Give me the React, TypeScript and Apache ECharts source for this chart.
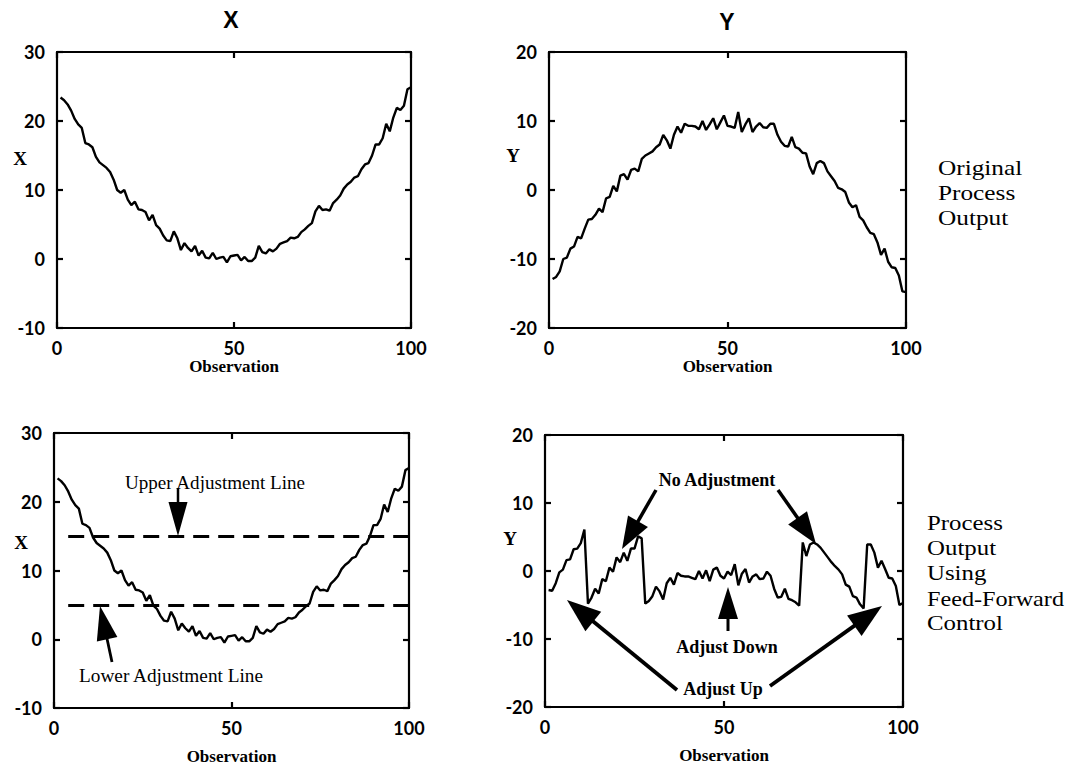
import React, { useEffect, useRef } from "react";
import * as echarts from "echarts";

// Observation numbers (x categories)
const observations: number[] = Array.from({ length: 100 }, (_, i) => i + 1);

// Original process output X
const xOriginal: number[] = [
  23.4, 23.0, 22.4, 21.5, 20.3, 19.5, 19.0, 16.8, 16.6, 16.2,
  14.8, 14.0, 13.6, 13.2, 12.6, 11.5, 10.0, 9.6, 10.0, 8.6,
  7.8, 8.3, 7.2, 7.1, 6.8, 5.6, 6.4, 4.9, 4.4, 3.4,
  2.7, 2.6, 4.0, 3.0, 1.3, 2.3, 1.6, 1.1, 1.9, 0.5,
  1.2, 0.2, 0.1, 0.9, 0.0, 0.2, 0.3, -0.5, 0.4, 0.5,
  0.6, -0.2, 0.3, -0.3, -0.3, 0.2, 1.9, 1.0, 0.8, 1.4,
  1.1, 1.5, 2.2, 2.4, 2.6, 3.1, 3.0, 3.2, 3.9, 4.3,
  4.8, 5.2, 6.9, 7.7, 7.1, 7.2, 7.0, 8.1, 8.6, 9.2,
  10.2, 10.8, 11.2, 11.8, 12.0, 13.0, 13.7, 13.9, 15.0, 16.6,
  16.6, 17.5, 19.6, 18.5, 20.5, 21.9, 21.6, 22.2, 24.6, 24.9,
];

// Original process output Y
const yOriginal: number[] = [
  -12.9, -12.6, -11.8, -10.0, -9.8, -8.5, -8.2, -6.8, -7.0, -5.6,
  -4.3, -4.2, -3.6, -2.7, -3.2, -1.2, -1.0, 0.6, -0.2, 2.1,
  2.3, 1.5, 2.9, 3.1, 2.7, 4.5, 5.0, 5.3, 5.6, 6.2,
  6.6, 8.0, 7.2, 6.0, 8.0, 9.2, 8.3, 9.6, 9.3, 9.3,
  9.2, 8.8, 10.0, 8.7, 9.5, 10.4, 8.8, 9.8, 10.8, 9.3,
  9.2, 9.0, 11.3, 8.4, 9.5, 10.4, 8.4, 9.2, 9.7, 9.1,
  9.0, 9.6, 9.6, 8.0, 7.0, 6.4, 6.3, 7.7, 6.2, 6.0,
  5.4, 5.3, 3.4, 2.3, 3.9, 4.2, 3.9, 2.7, 2.0, 1.3,
  0.3, 0.1, -0.3, -1.8, -2.5, -2.2, -3.9, -4.4, -5.4, -6.2,
  -6.4, -7.6, -9.4, -8.5, -10.4, -11.2, -11.3, -12.4, -14.7, -14.8,
];

// Y using feed-forward control
const yControlled: number[] = [
  -2.8, -2.9, -1.8, -0.2, 0.2, 1.6, 1.7, 3.2, 3.3, 4.1,
  6.1, -4.8, -3.9, -2.6, -3.3, -1.2, -1.5, 0.5, -0.1, 2.0,
  1.3, 2.7, 1.5, 3.3, 3.3, 5.1, 4.8, -4.8, -4.4, -3.7,
  -2.3, -3.0, -4.2, -1.8, -1.0, -2.0, -0.3, -0.7, -0.8, -0.8,
  -1.0, -1.2, 0.0, -1.1, 0.1, -1.5, 0.2, 0.5, -0.7, -1.1,
  -0.1, -0.6, 1.0, -2.1, -0.4, 0.3, -1.7, -0.8, -0.5, -1.2,
  -1.1, -0.1, -0.7, -2.6, -3.9, -3.8, -2.6, -4.1, -4.3, -4.6,
  -5.1, 4.2, 2.2, 3.9, 4.2, 3.9, 3.4, 2.7, 2.0, 1.3,
  0.7, 0.2, -0.5, -2.0, -2.3, -3.7, -3.9, -4.9, -5.5, 3.9,
  3.9, 2.7, 0.5, 1.5, 0.3, -1.0, -1.1, -2.2, -5.0, -4.7,
];

const xTicks = { min: 0, max: 100, interval: 50 };
const xRange = { min: -10, max: 30, interval: 10 };
const yRange = { min: -20, max: 20, interval: 10 };
const upperAdjustment = 15;
const lowerAdjustment = 5;
const dashStartObs = 4;

const SERIF = "'Liberation Serif', 'Times New Roman', serif";
const SANS = "'Liberation Sans', Arial, sans-serif";
const TICKFONT = "Lato, 'Open Sans', sans-serif";

const grids = [
  { left: 57, top: 52, width: 354, height: 276 },
  { left: 549, top: 52, width: 357, height: 276 },
  { left: 54, top: 433, width: 355, height: 275 },
  { left: 545, top: 435, width: 358, height: 272 },
];

function lineStyle() {
  return { color: "#000", width: 2.2 };
}

function makeXAxes(gridIndex: number, nameGap: number) {
  const common = {
    type: "value",
    gridIndex,
    min: xTicks.min,
    max: xTicks.max,
    interval: xTicks.interval,
    splitLine: { show: false },
    axisLine: { show: true, onZero: false, lineStyle: lineStyle() },
    axisTick: { show: true, inside: true, length: 6, lineStyle: lineStyle() },
  };
  return [
    {
      ...common,
      position: "bottom",
      name: "Observation",
      nameLocation: "middle",
      nameGap,
      nameTextStyle: { fontFamily: SERIF, fontWeight: "bold", fontSize: 17, color: "#000" },
      axisLabel: { show: true, margin: 11, fontFamily: TICKFONT, fontWeight: "bold", fontSize: 18, color: "#000" },
    },
    { ...common, position: "top", axisLabel: { show: false } },
  ];
}

function makeYAxes(gridIndex: number, range: { min: number; max: number; interval: number }) {
  const common = {
    type: "value",
    gridIndex,
    min: range.min,
    max: range.max,
    interval: range.interval,
    splitLine: { show: false },
    axisLine: { show: true, onZero: false, lineStyle: lineStyle() },
    axisTick: { show: true, inside: true, length: 6, lineStyle: lineStyle() },
  };
  return [
    {
      ...common,
      position: "left",
      axisLabel: { show: true, margin: 12, fontFamily: TICKFONT, fontWeight: "bold", fontSize: 18, color: "#000" },
    },
    { ...common, position: "right", axisLabel: { show: false } },
  ];
}

function pairs(values: number[]) {
  return observations.map((o, i) => [o, values[i]]);
}

function arrow(x1: number, y1: number, x2: number, y2: number, headLen = 30, headW = 20, w = 2.5) {
  const dx = x2 - x1;
  const dy = y2 - y1;
  const len = Math.sqrt(dx * dx + dy * dy);
  const ux = dx / len;
  const uy = dy / len;
  const bx = x2 - ux * headLen;
  const by = y2 - uy * headLen;
  const px = -uy;
  const py = ux;
  return [
    {
      type: "line",
      shape: { x1, y1, x2: bx + ux * 2, y2: by + uy * 2 },
      style: { stroke: "#000", lineWidth: w },
      silent: true,
    },
    {
      type: "polygon",
      shape: {
        points: [
          [x2, y2],
          [bx + (px * headW) / 2, by + (py * headW) / 2],
          [bx - (px * headW) / 2, by - (py * headW) / 2],
        ],
      },
      style: { fill: "#000" },
      silent: true,
    },
  ];
}

function text(
  t: string,
  x: number,
  y: number,
  opts: { size?: number; weight?: string; family?: string; align?: string; sx?: number } = {}
) {
  return {
    type: "text",
    x,
    y,
    scaleX: opts.sx ?? 1,
    silent: true,
    style: {
      text: t,
      fill: "#000",
      fontSize: opts.size ?? 19,
      fontWeight: opts.weight ?? "normal",
      fontFamily: opts.family ?? SERIF,
      align: opts.align ?? "center",
      verticalAlign: "middle",
    },
  };
}

export default function App() {
  const ref = useRef<HTMLDivElement>(null);

  useEffect(() => {
    if (!ref.current) return;
    const chart = echarts.init(ref.current, undefined, { renderer: "svg" });

    const xAxis = [
      ...makeXAxes(0, 30),
      ...makeXAxes(1, 30),
      ...makeXAxes(2, 40),
      ...makeXAxes(3, 40),
    ];
    const yAxis = [
      ...makeYAxes(0, xRange),
      ...makeYAxes(1, yRange),
      ...makeYAxes(2, xRange),
      ...makeYAxes(3, yRange),
    ];

    const seriesBase = {
      type: "line",
      showSymbol: false,
      symbol: "none",
      lineStyle: { color: "#000", width: 2.4 },
      silent: true,
    };

    const dashStyle = { color: "#000", width: 2.8, type: [16, 9] };

    const graphic: any[] = [
      text("X", 231, 20, { size: 23, weight: "bold", family: SANS }),
      text("Y", 727, 22, { size: 23, weight: "bold", family: SANS }),
      text("X", 20, 158, { size: 19, weight: "bold" }),
      text("Y", 513, 155, { size: 19, weight: "bold" }),
      text("X", 21, 542, { size: 19, weight: "bold" }),
      text("Y", 510, 538, { size: 19, weight: "bold" }),
      text("Original", 938, 168, { size: 22, align: "left", sx: 1.15 }),
      text("Process", 938, 193, { size: 22, align: "left", sx: 1.15 }),
      text("Output", 938, 218, { size: 22, align: "left", sx: 1.15 }),
      text("Process", 927, 523, { size: 22, align: "left", sx: 1.13 }),
      text("Output", 927, 548, { size: 22, align: "left", sx: 1.13 }),
      text("Using", 927, 573, { size: 22, align: "left", sx: 1.13 }),
      text("Feed-Forward", 927, 598, { size: 22, align: "left", sx: 1.1 }),
      text("Control", 927, 623, { size: 22, align: "left", sx: 1.13 }),
      text("Upper Adjustment Line", 215, 483, { size: 18, sx: 1.06 }),
      text("Lower Adjustment Line", 171, 676, { size: 18, sx: 1.07 }),
      text("No Adjustment", 717, 480, { size: 18, weight: "bold" }),
      text("Adjust Down", 727, 647, { size: 18, weight: "bold" }),
      text("Adjust Up", 723, 689, { size: 18, weight: "bold" }),
      ...arrow(178, 488, 178, 536, 34, 19, 2.5),
      ...arrow(112, 662, 100, 606, 34, 21, 2.8),
      ...arrow(656, 490, 622, 549, 32, 23, 3.5),
      ...arrow(778, 490, 816, 544, 32, 23, 3.5),
      ...arrow(728, 631, 728, 587, 32, 20, 3),
      ...arrow(677, 690, 567, 600, 34, 25, 3.8),
      ...arrow(770, 686, 882, 606, 34, 25, 3.8),
    ];

    chart.setOption({
      animation: false,
      backgroundColor: "#fff",
      grid: grids.map((g) => ({ ...g, show: false, containLabel: false })),
      xAxis,
      yAxis,
      series: [
        { ...seriesBase, xAxisIndex: 0, yAxisIndex: 0, data: pairs(xOriginal) },
        { ...seriesBase, xAxisIndex: 2, yAxisIndex: 2, data: pairs(yOriginal) },
        {
          ...seriesBase,
          xAxisIndex: 4,
          yAxisIndex: 4,
          data: pairs(xOriginal),
          markLine: {
            silent: true,
            symbol: ["none", "none"],
            label: { show: false },
            lineStyle: dashStyle,
            data: [
              [{ coord: [dashStartObs, upperAdjustment] }, { coord: [xTicks.max, upperAdjustment] }],
              [{ coord: [dashStartObs, lowerAdjustment] }, { coord: [xTicks.max, lowerAdjustment] }],
            ],
          },
        },
        { ...seriesBase, xAxisIndex: 6, yAxisIndex: 6, data: pairs(yControlled) },
      ],
      graphic,
    });

    return () => chart.dispose();
  }, []);

  return (
    <div
      ref={ref}
      style={{ position: "absolute", left: 0, top: 0, width: 1072, height: 770, background: "#fff" }}
    />
  );
}
